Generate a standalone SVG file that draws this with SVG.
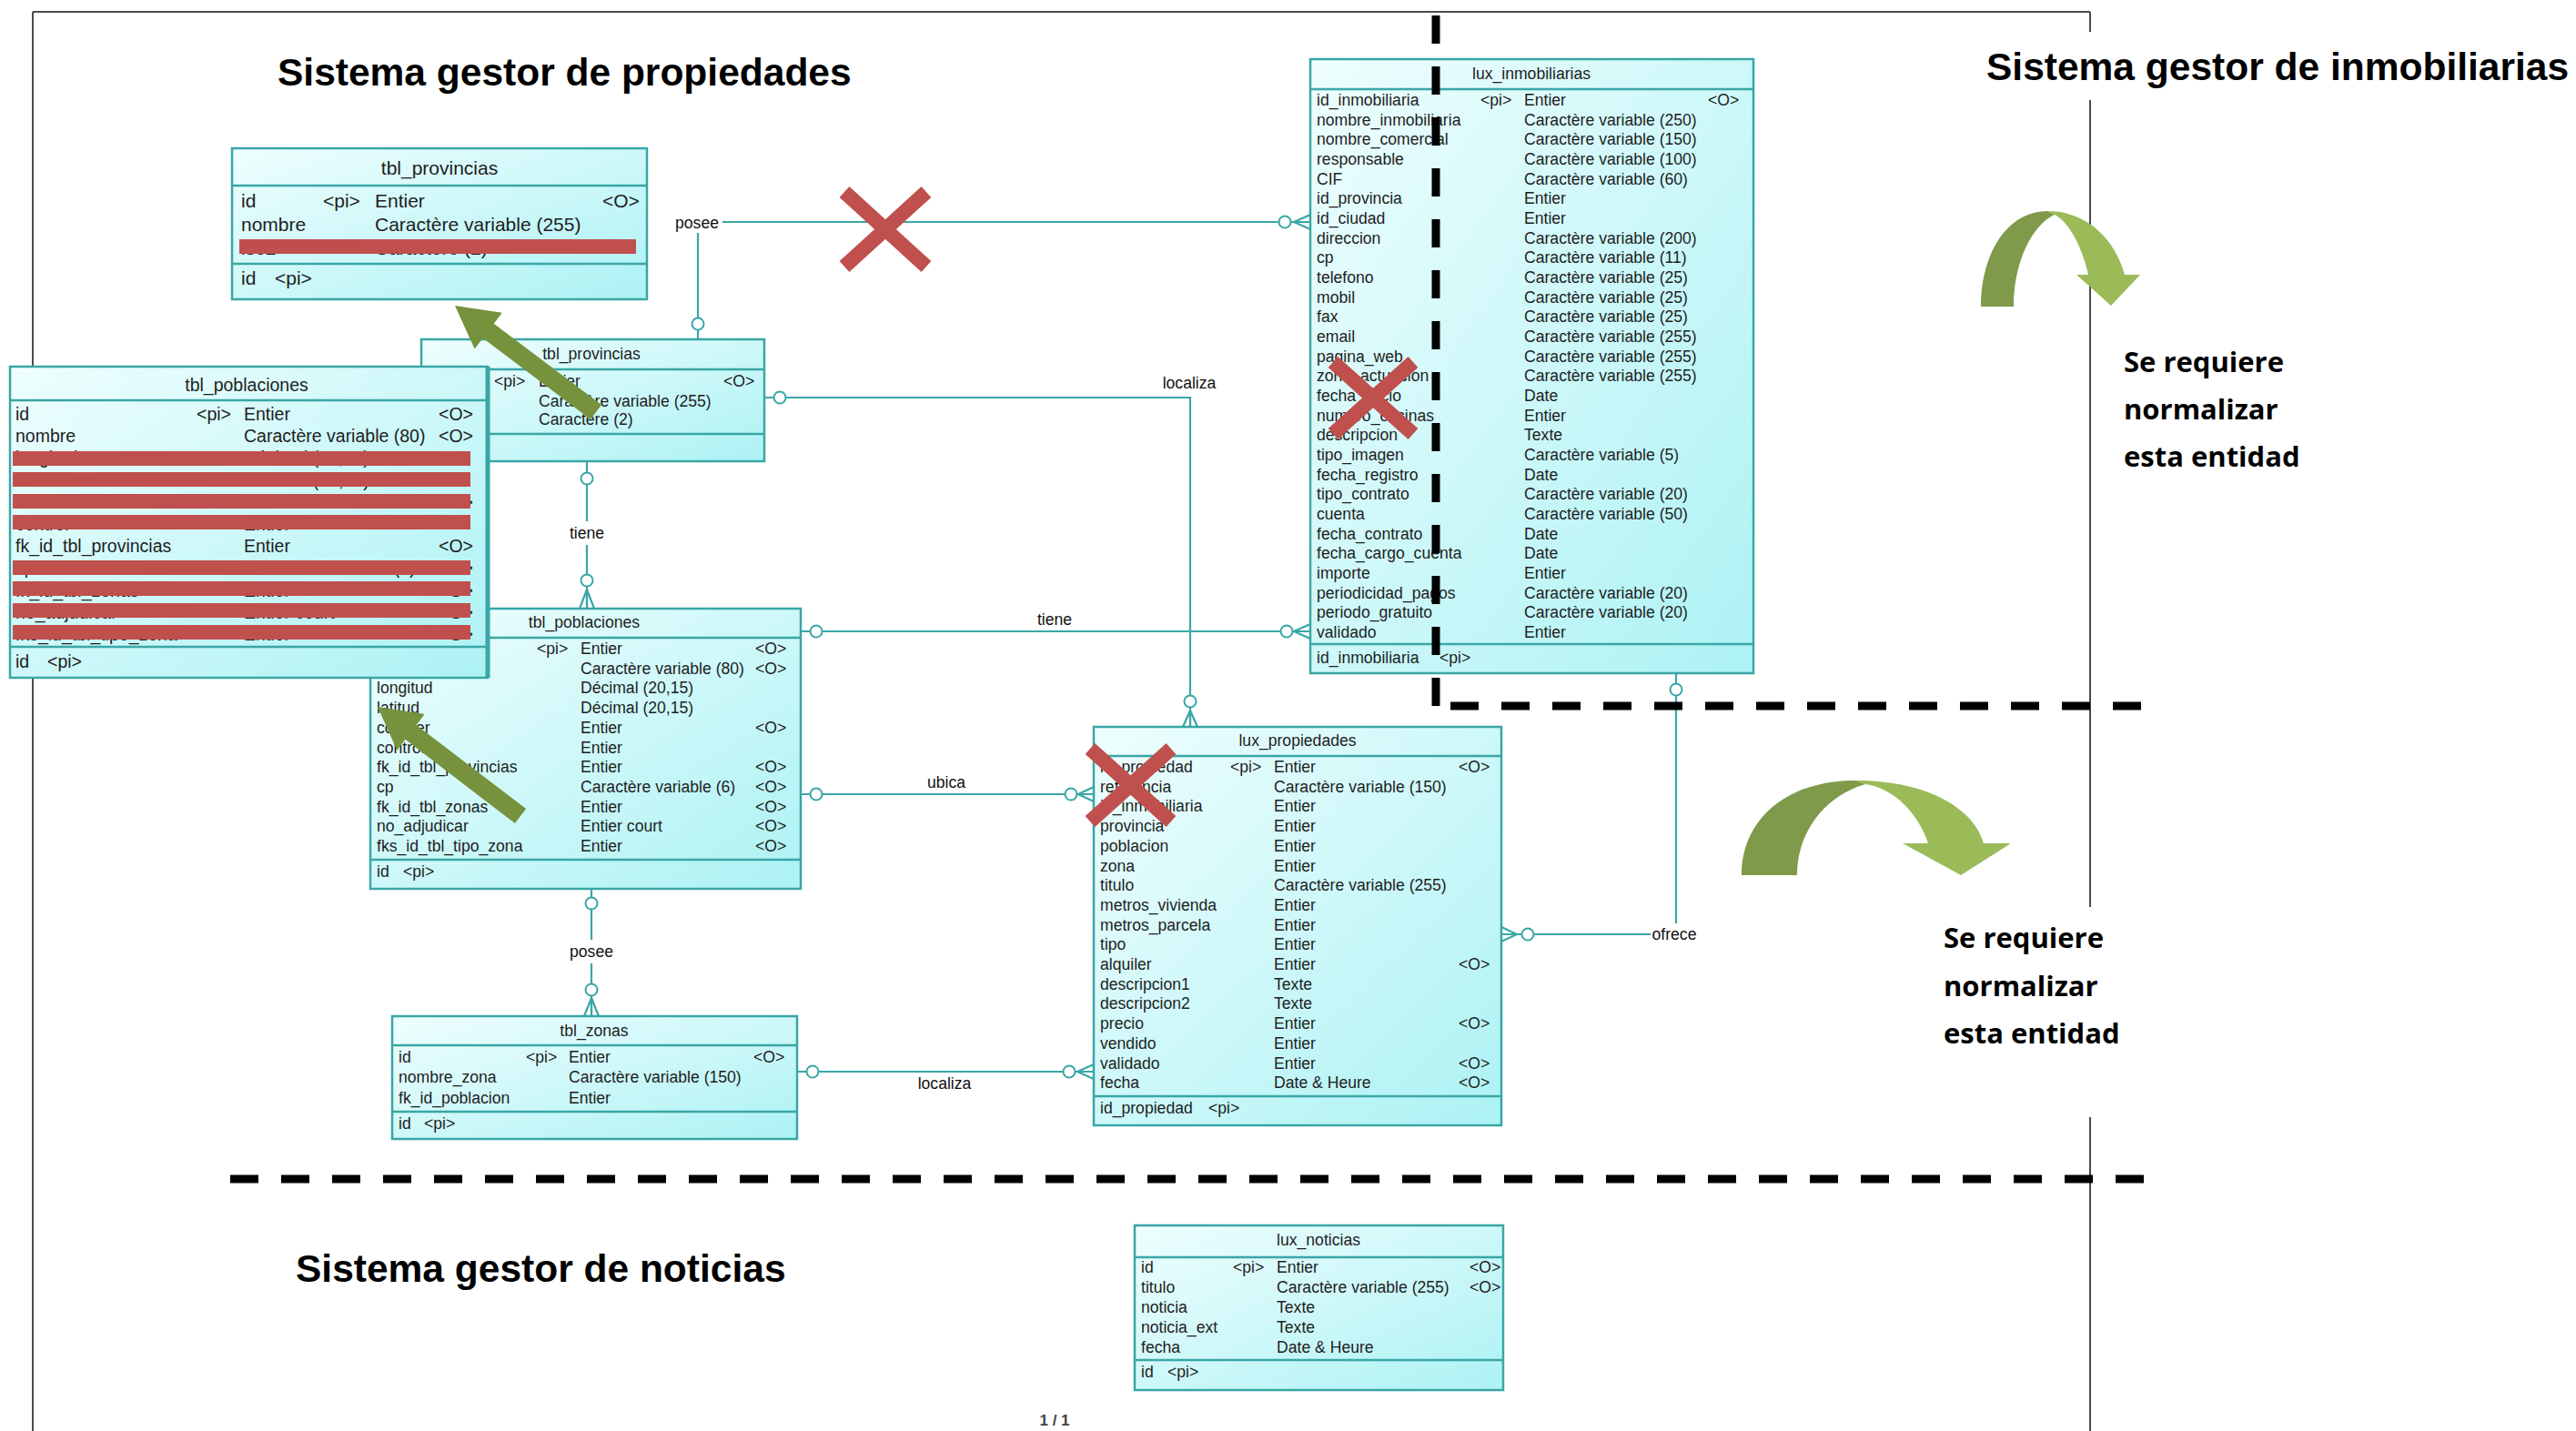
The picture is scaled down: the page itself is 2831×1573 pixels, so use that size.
<svg xmlns="http://www.w3.org/2000/svg" width="2831" height="1573" viewBox="0 0 2831 1573">
<defs>
<linearGradient id="cy" x1="0" y1="0" x2="1" y2="1">
<stop offset="0" stop-color="#effefe"/>
<stop offset="1" stop-color="#adf2f4"/>
</linearGradient>
<style>
.tb{fill:url(#cy);stroke:#3aa6a6;stroke-width:2.5}
.dv{stroke:#3aa6a6;stroke-width:2.5;fill:none}
.t{font-family:"Liberation Sans",Arial,sans-serif;font-size:17.6px;fill:#1e1e1e}
.tm{font-family:"Liberation Sans",Arial,sans-serif;font-size:17.6px;fill:#1e1e1e;text-anchor:middle}
.tL{font-family:"Liberation Sans",Arial,sans-serif;font-size:21px;fill:#1e1e1e}
.tLm{font-family:"Liberation Sans",Arial,sans-serif;font-size:21px;fill:#1e1e1e;text-anchor:middle}
.tO{font-family:"Liberation Sans",Arial,sans-serif;font-size:19.5px;fill:#1e1e1e}
.tOm{font-family:"Liberation Sans",Arial,sans-serif;font-size:19.5px;fill:#1e1e1e;text-anchor:middle}
.c{fill:none;stroke:#3aa6a6;stroke-width:2.2}
.ci{fill:#ffffff;stroke:#3aa6a6;stroke-width:2}
.lb{font-family:"Liberation Sans",Arial,sans-serif;font-size:17.6px;fill:#111;text-anchor:middle}
.sec{font-family:"Liberation Sans",Arial,sans-serif;font-size:42.5px;font-weight:bold;fill:#000}
.note{font-family:"Open Sans","Noto Sans",sans-serif;font-size:31px;font-weight:bold;fill:#000}
.dash{stroke:#000;stroke-width:9;stroke-dasharray:31 25;fill:none}
.rb{fill:#c0504d}
.x{stroke:#c0504d;stroke-width:16;stroke-linecap:butt}
.ga{fill:#76923c}
.frame{stroke:#4a4a4a;stroke-width:2;fill:none}
</style>
</defs>
<rect x="0" y="0" width="2831" height="1573" fill="#ffffff"/>

<g id="page-frame">
<path class="frame" d="M36,13 H2297 M36,13 V1573 M2297,13 V1573"/>
</g>

<g id="connectors">
<path class="c" d="M767,373 V244 H1440"/>
<circle class="ci" cx="767" cy="356" r="6.5"/>
<circle class="ci" cx="1412" cy="244" r="6.5"/>
<path class="c" d="M1422,244 L1440,236 M1422,244 L1440,244 M1422,244 L1440,252"/>

<path class="c" d="M840,437 H1308 V799"/>
<circle class="ci" cx="857" cy="437" r="6.5"/>
<circle class="ci" cx="1308" cy="771" r="6.5"/>
<path class="c" d="M1308,781 L1300,799 M1308,781 L1308,799 M1308,781 L1316,799"/>

<path class="c" d="M645,507 V669"/>
<circle class="ci" cx="645" cy="526" r="6.5"/>
<circle class="ci" cx="645" cy="638" r="6.5"/>
<path class="c" d="M645,648 L637,669 M645,648 L645,669 M645,648 L653,669"/>

<path class="c" d="M880,694 H1440"/>
<circle class="ci" cx="897" cy="694" r="6.5"/>
<circle class="ci" cx="1414" cy="694" r="6.5"/>
<path class="c" d="M1422,694 L1440,686 M1422,694 L1440,694 M1422,694 L1440,702"/>

<path class="c" d="M880,873 H1202"/>
<circle class="ci" cx="897" cy="873" r="6.5"/>
<circle class="ci" cx="1177" cy="873" r="6.5"/>
<path class="c" d="M1185,873 L1202,865 M1185,873 L1202,873 M1185,873 L1202,881"/>

<path class="c" d="M876,1178 H1202"/>
<circle class="ci" cx="893" cy="1178" r="6.5"/>
<circle class="ci" cx="1175" cy="1178" r="6.5"/>
<path class="c" d="M1184,1178 L1202,1170 M1184,1178 L1202,1178 M1184,1178 L1202,1186"/>

<path class="c" d="M650,977 V1117"/>
<circle class="ci" cx="650" cy="993" r="6.5"/>
<circle class="ci" cx="650" cy="1088" r="6.5"/>
<path class="c" d="M650,1097 L642,1117 M650,1097 L650,1117 M650,1097 L658,1117"/>

<path class="c" d="M1842,740 V1027 H1650"/>
<circle class="ci" cx="1842" cy="758" r="6.5"/>
<circle class="ci" cx="1679" cy="1027" r="6.5"/>
<path class="c" d="M1667,1027 L1650,1019 M1667,1027 L1650,1027 M1667,1027 L1650,1035"/>

<rect x="738" y="232" width="56" height="24" fill="#fff"/>
<text class="lb" x="766" y="251">posee</text>
<text class="lb" x="1307" y="427">localiza</text>
<rect x="622" y="573" width="46" height="26" fill="#fff"/>
<text class="lb" x="645" y="592">tiene</text>
<text class="lb" x="1159" y="687">tiene</text>
<text class="lb" x="1040" y="866">ubica</text>
<text class="lb" x="1038" y="1197">localiza</text>
<rect x="625" y="1033" width="50" height="26" fill="#fff"/>
<text class="lb" x="650" y="1052">posee</text>
<rect x="1814" y="1015" width="54" height="24" fill="#fff"/>
<text class="lb" x="1840" y="1033">ofrece</text>
</g>

<g id="lux_inmobiliarias">
<rect class="tb" x="1440" y="65" width="487" height="675"/>
<path class="dv" d="M1440,98 H1927 M1440,708 H1927"/>
<text class="tm" x="1683" y="87">lux_inmobiliarias</text>
<text class="t" x="1447" y="116">id_inmobiliaria</text><text class="t" x="1627" y="116">&lt;pi&gt;</text><text class="t" x="1675" y="116">Entier</text><text class="t" x="1877" y="116">&lt;O&gt;</text>
<text class="t" x="1447" y="137.7">nombre_inmobiliaria</text><text class="t" x="1675" y="137.7">Caractère variable (250)</text>
<text class="t" x="1447" y="159.3">nombre_comercial</text><text class="t" x="1675" y="159.3">Caractère variable (150)</text>
<text class="t" x="1447" y="181">responsable</text><text class="t" x="1675" y="181">Caractère variable (100)</text>
<text class="t" x="1447" y="202.7">CIF</text><text class="t" x="1675" y="202.7">Caractère variable (60)</text>
<text class="t" x="1447" y="224.4">id_provincia</text><text class="t" x="1675" y="224.4">Entier</text>
<text class="t" x="1447" y="246">id_ciudad</text><text class="t" x="1675" y="246">Entier</text>
<text class="t" x="1447" y="267.7">direccion</text><text class="t" x="1675" y="267.7">Caractère variable (200)</text>
<text class="t" x="1447" y="289.4">cp</text><text class="t" x="1675" y="289.4">Caractère variable (11)</text>
<text class="t" x="1447" y="311">telefono</text><text class="t" x="1675" y="311">Caractère variable (25)</text>
<text class="t" x="1447" y="332.7">mobil</text><text class="t" x="1675" y="332.7">Caractère variable (25)</text>
<text class="t" x="1447" y="354.4">fax</text><text class="t" x="1675" y="354.4">Caractère variable (25)</text>
<text class="t" x="1447" y="376">email</text><text class="t" x="1675" y="376">Caractère variable (255)</text>
<text class="t" x="1447" y="397.7">pagina_web</text><text class="t" x="1675" y="397.7">Caractère variable (255)</text>
<text class="t" x="1447" y="419.4">zona_actuacion</text><text class="t" x="1675" y="419.4">Caractère variable (255)</text>
<text class="t" x="1447" y="441">fecha_inicio</text><text class="t" x="1675" y="441">Date</text>
<text class="t" x="1447" y="462.7">numero_oficinas</text><text class="t" x="1675" y="462.7">Entier</text>
<text class="t" x="1447" y="484.4">descripcion</text><text class="t" x="1675" y="484.4">Texte</text>
<text class="t" x="1447" y="506">tipo_imagen</text><text class="t" x="1675" y="506">Caractère variable (5)</text>
<text class="t" x="1447" y="527.7">fecha_registro</text><text class="t" x="1675" y="527.7">Date</text>
<text class="t" x="1447" y="549.4">tipo_contrato</text><text class="t" x="1675" y="549.4">Caractère variable (20)</text>
<text class="t" x="1447" y="571">cuenta</text><text class="t" x="1675" y="571">Caractère variable (50)</text>
<text class="t" x="1447" y="592.7">fecha_contrato</text><text class="t" x="1675" y="592.7">Date</text>
<text class="t" x="1447" y="614.4">fecha_cargo_cuenta</text><text class="t" x="1675" y="614.4">Date</text>
<text class="t" x="1447" y="636">importe</text><text class="t" x="1675" y="636">Entier</text>
<text class="t" x="1447" y="657.7">periodicidad_pagos</text><text class="t" x="1675" y="657.7">Caractère variable (20)</text>
<text class="t" x="1447" y="679.4">periodo_gratuito</text><text class="t" x="1675" y="679.4">Caractère variable (20)</text>
<text class="t" x="1447" y="701">validado</text><text class="t" x="1675" y="701">Entier</text>
<text class="t" x="1447" y="729">id_inmobiliaria</text><text class="t" x="1582" y="729">&lt;pi&gt;</text>
</g>

<g id="lux_propiedades">
<rect class="tb" x="1202" y="799" width="448" height="438"/>
<path class="dv" d="M1202,831 H1650 M1202,1205 H1650"/>
<text class="tm" x="1426" y="820">lux_propiedades</text>
<text class="t" x="1209" y="849">id_propiedad</text><text class="t" x="1352" y="849">&lt;pi&gt;</text><text class="t" x="1400" y="849">Entier</text><text class="t" x="1603" y="849">&lt;O&gt;</text>
<text class="t" x="1209" y="870.7">referencia</text><text class="t" x="1400" y="870.7">Caractère variable (150)</text>
<text class="t" x="1209" y="892.4">id_inmobiliaria</text><text class="t" x="1400" y="892.4">Entier</text>
<text class="t" x="1209" y="914.1">provincia</text><text class="t" x="1400" y="914.1">Entier</text>
<text class="t" x="1209" y="935.8">poblacion</text><text class="t" x="1400" y="935.8">Entier</text>
<text class="t" x="1209" y="957.5">zona</text><text class="t" x="1400" y="957.5">Entier</text>
<text class="t" x="1209" y="979.2">titulo</text><text class="t" x="1400" y="979.2">Caractère variable (255)</text>
<text class="t" x="1209" y="1000.9">metros_vivienda</text><text class="t" x="1400" y="1000.9">Entier</text>
<text class="t" x="1209" y="1022.6">metros_parcela</text><text class="t" x="1400" y="1022.6">Entier</text>
<text class="t" x="1209" y="1044.3">tipo</text><text class="t" x="1400" y="1044.3">Entier</text>
<text class="t" x="1209" y="1066">alquiler</text><text class="t" x="1400" y="1066">Entier</text><text class="t" x="1603" y="1066">&lt;O&gt;</text>
<text class="t" x="1209" y="1087.7">descripcion1</text><text class="t" x="1400" y="1087.7">Texte</text>
<text class="t" x="1209" y="1109.4">descripcion2</text><text class="t" x="1400" y="1109.4">Texte</text>
<text class="t" x="1209" y="1131.1">precio</text><text class="t" x="1400" y="1131.1">Entier</text><text class="t" x="1603" y="1131.1">&lt;O&gt;</text>
<text class="t" x="1209" y="1152.8">vendido</text><text class="t" x="1400" y="1152.8">Entier</text>
<text class="t" x="1209" y="1174.5">validado</text><text class="t" x="1400" y="1174.5">Entier</text><text class="t" x="1603" y="1174.5">&lt;O&gt;</text>
<text class="t" x="1209" y="1196.2">fecha</text><text class="t" x="1400" y="1196.2">Date &amp; Heure</text><text class="t" x="1603" y="1196.2">&lt;O&gt;</text>
<text class="t" x="1209" y="1224">id_propiedad</text><text class="t" x="1328" y="1224">&lt;pi&gt;</text>
</g>

<g id="lux_noticias">
<rect class="tb" x="1247" y="1347" width="405" height="181"/>
<path class="dv" d="M1247,1382 H1652 M1247,1495 H1652"/>
<text class="tm" x="1449" y="1369">lux_noticias</text>
<text class="t" x="1254" y="1399">id</text><text class="t" x="1355" y="1399">&lt;pi&gt;</text><text class="t" x="1403" y="1399">Entier</text><text class="t" x="1615" y="1399">&lt;O&gt;</text>
<text class="t" x="1254" y="1421">titulo</text><text class="t" x="1403" y="1421">Caractère variable (255)</text><text class="t" x="1615" y="1421">&lt;O&gt;</text>
<text class="t" x="1254" y="1443">noticia</text><text class="t" x="1403" y="1443">Texte</text>
<text class="t" x="1254" y="1465">noticia_ext</text><text class="t" x="1403" y="1465">Texte</text>
<text class="t" x="1254" y="1487">fecha</text><text class="t" x="1403" y="1487">Date &amp; Heure</text>
<text class="t" x="1254" y="1514">id</text><text class="t" x="1283" y="1514">&lt;pi&gt;</text>
</g>

<g id="tbl_zonas">
<rect class="tb" x="431" y="1117" width="445" height="135"/>
<path class="dv" d="M431,1149 H876 M431,1222 H876"/>
<text class="tm" x="653" y="1139">tbl_zonas</text>
<text class="t" x="438" y="1168">id</text><text class="t" x="578" y="1168">&lt;pi&gt;</text><text class="t" x="625" y="1168">Entier</text><text class="t" x="828" y="1168">&lt;O&gt;</text>
<text class="t" x="438" y="1190">nombre_zona</text><text class="t" x="625" y="1190">Caractère variable (150)</text>
<text class="t" x="438" y="1213">fk_id_poblacion</text><text class="t" x="625" y="1213">Entier</text>
<text class="t" x="438" y="1241">id</text><text class="t" x="466" y="1241">&lt;pi&gt;</text>
</g>

<g id="tbl_poblaciones">
<rect class="tb" x="407" y="669" width="473" height="308"/>
<path class="dv" d="M407,701 H880 M407,945 H880"/>
<text class="tm" x="642" y="690">tbl_poblaciones</text>
<text class="t" x="590" y="719">&lt;pi&gt;</text><text class="t" x="638" y="719">Entier</text><text class="t" x="830" y="719">&lt;O&gt;</text>
<text class="t" x="638" y="740.7">Caractère variable (80)</text><text class="t" x="830" y="740.7">&lt;O&gt;</text>
<text class="t" x="414" y="762.4">longitud</text><text class="t" x="638" y="762.4">Décimal (20,15)</text>
<text class="t" x="414" y="784.1">latitud</text><text class="t" x="638" y="784.1">Décimal (20,15)</text>
<text class="t" x="414" y="805.8">counter</text><text class="t" x="638" y="805.8">Entier</text><text class="t" x="830" y="805.8">&lt;O&gt;</text>
<text class="t" x="414" y="827.5">control</text><text class="t" x="638" y="827.5">Entier</text>
<text class="t" x="414" y="849.2">fk_id_tbl_provincias</text><text class="t" x="638" y="849.2">Entier</text><text class="t" x="830" y="849.2">&lt;O&gt;</text>
<text class="t" x="414" y="870.9">cp</text><text class="t" x="638" y="870.9">Caractère variable (6)</text><text class="t" x="830" y="870.9">&lt;O&gt;</text>
<text class="t" x="414" y="892.6">fk_id_tbl_zonas</text><text class="t" x="638" y="892.6">Entier</text><text class="t" x="830" y="892.6">&lt;O&gt;</text>
<text class="t" x="414" y="914.3">no_adjudicar</text><text class="t" x="638" y="914.3">Entier court</text><text class="t" x="830" y="914.3">&lt;O&gt;</text>
<text class="t" x="414" y="936">fks_id_tbl_tipo_zona</text><text class="t" x="638" y="936">Entier</text><text class="t" x="830" y="936">&lt;O&gt;</text>
<text class="t" x="414" y="964">id</text><text class="t" x="443" y="964">&lt;pi&gt;</text>
</g>

<g id="tbl_provincias">
<rect class="tb" x="463" y="373" width="377" height="134"/>
<path class="dv" d="M463,406 H840 M463,477 H840"/>
<text class="tm" x="650" y="395">tbl_provincias</text>
<text class="t" x="543" y="425">&lt;pi&gt;</text><text class="t" x="592" y="425">Entier</text><text class="t" x="795" y="425">&lt;O&gt;</text>
<text class="t" x="592" y="447">Caractère variable (255)</text>
<text class="t" x="592" y="467">Caractère (2)</text>
</g>

<g id="tbl_provincias_extract">
<rect class="tb" x="255" y="163" width="456" height="166"/>
<path class="dv" d="M255,204 H711 M255,290 H711"/>
<text class="tLm" x="483" y="192">tbl_provincias</text>
<text class="tL" x="265" y="228">id</text><text class="tL" x="355" y="228">&lt;pi&gt;</text><text class="tL" x="412" y="228">Entier</text><text class="tL" x="662" y="228">&lt;O&gt;</text>
<text class="tL" x="265" y="254">nombre</text><text class="tL" x="412" y="254">Caractère variable (255)</text>
<text class="tL" x="265" y="280">iso2</text><text class="tL" x="412" y="280">Caractère (2)</text>
<text class="tL" x="265" y="313">id</text><text class="tL" x="302" y="313">&lt;pi&gt;</text>
<rect class="rb" x="263" y="263" width="436" height="16"/>
</g>

<g id="tbl_poblaciones_extract">
<rect class="tb" x="11" y="403" width="525" height="342"/>
<path class="dv" d="M11,440 H536 M11,711 H536"/>
<path d="M536,403 V745" stroke="#3aa6a6" stroke-width="5"/>
<text class="tOm" x="271" y="430">tbl_poblaciones</text>
<text class="tO" x="17" y="462">id</text><text class="tO" x="216" y="462">&lt;pi&gt;</text><text class="tO" x="268" y="462">Entier</text><text class="tO" x="482" y="462">&lt;O&gt;</text>
<text class="tO" x="17" y="486.2">nombre</text><text class="tO" x="268" y="486.2">Caractère variable (80)</text><text class="tO" x="482" y="486.2">&lt;O&gt;</text>
<text class="tO" x="17" y="510.4">longitud</text><text class="tO" x="268" y="510.4">Décimal (20,15)</text>
<text class="tO" x="17" y="534.6">latitud</text><text class="tO" x="268" y="534.6">Décimal (20,15)</text>
<text class="tO" x="17" y="558.8">counter</text><text class="tO" x="268" y="558.8">Entier</text><text class="tO" x="482" y="558.8">&lt;O&gt;</text>
<text class="tO" x="17" y="583">control</text><text class="tO" x="268" y="583">Entier</text>
<text class="tO" x="17" y="607.2">fk_id_tbl_provincias</text><text class="tO" x="268" y="607.2">Entier</text><text class="tO" x="482" y="607.2">&lt;O&gt;</text>
<text class="tO" x="17" y="631.4">cp</text><text class="tO" x="268" y="631.4">Caractère variable (6)</text><text class="tO" x="482" y="631.4">&lt;O&gt;</text>
<text class="tO" x="17" y="655.6">fk_id_tbl_zonas</text><text class="tO" x="268" y="655.6">Entier</text><text class="tO" x="482" y="655.6">&lt;O&gt;</text>
<text class="tO" x="17" y="679.8">no_adjudicar</text><text class="tO" x="268" y="679.8">Entier court</text><text class="tO" x="482" y="679.8">&lt;O&gt;</text>
<text class="tO" x="17" y="704">fks_id_tbl_tipo_zona</text><text class="tO" x="268" y="704">Entier</text><text class="tO" x="482" y="704">&lt;O&gt;</text>
<text class="tO" x="17" y="734">id</text><text class="tO" x="52" y="734">&lt;pi&gt;</text>
<rect class="rb" x="14" y="496" width="503" height="16"/>
<rect class="rb" x="14" y="519" width="503" height="16"/>
<rect class="rb" x="14" y="543" width="503" height="16"/>
<rect class="rb" x="14" y="566" width="503" height="16"/>
<rect class="rb" x="14" y="616" width="503" height="16"/>
<rect class="rb" x="14" y="639" width="503" height="16"/>
<rect class="rb" x="14" y="663" width="503" height="16"/>
<rect class="rb" x="14" y="687" width="503" height="16"/>
</g>

<g id="boundaries">
<path class="dash" d="M1578,17 V776"/>
<path class="dash" d="M1594,776 H2360"/>
<path class="dash" d="M253,1296 H2360"/>
</g>

<g id="crosses">
<path class="x" d="M928,211 L1018,293 M1018,211 L928,293"/>
<path class="x" d="M1465,398 L1553,477 M1553,398 L1465,477"/>
<path class="x" d="M1198,823 L1287,903 M1287,823 L1198,903"/>
</g>

<g id="green-arrows">
<polygon class="ga" points="661,445 542.7,355.7 551.8,343.8 500,336 521.6,383.6 530.7,371.7 649,461"/>
<polygon class="ga" points="578.1,889.1 457.6,797 466.7,785 415,777 436.3,824.8 445.4,812.8 565.9,904.9"/>
</g>

<g id="curved-arrow-top">
<path fill="#7e9a4a" d="M2177,337 C2177,280 2205,232 2250,232 L2258,236 C2232,248 2213,290 2213,337 Z"/>
<path fill="#9bbb59" d="M2250,232 C2295,232 2325,265 2335,302 L2352,302 L2320,336 L2282,302 L2295,302 C2288,272 2275,245 2258,236 Z"/>
</g>
<g id="curved-arrow-bottom">
<path fill="#7e9a4a" d="M1914,962 C1914,905 1958,858 2040,858 L2050,862 C2005,875 1975,915 1975,962 Z"/>
<path fill="#9bbb59" d="M2040,858 C2120,858 2170,890 2180,927 L2210,927 L2155,962 L2091,927 L2119,927 C2108,893 2080,866 2050,862 Z"/>
</g>

<g id="titles">
<text class="sec" x="305" y="94">Sistema gestor de propiedades</text>
<rect x="2175" y="35" width="656" height="75" fill="#fff"/>
<text class="sec" x="2183" y="88">Sistema gestor de inmobiliarias</text>
<text class="sec" x="325" y="1409">Sistema gestor de noticias</text>
</g>

<g id="notes">
<text class="note" x="2334" y="409">Se requiere</text>
<text class="note" x="2334" y="461">normalizar</text>
<text class="note" x="2334" y="513">esta entidad</text>
<rect x="2120" y="997" width="220" height="231" fill="#fff"/>
<text class="note" x="2136" y="1042">Se requiere</text>
<text class="note" x="2136" y="1095">normalizar</text>
<text class="note" x="2136" y="1147">esta entidad</text>
<text x="1159" y="1567" text-anchor="middle" font-family="Liberation Sans, Arial, sans-serif" font-size="17" font-weight="bold" fill="#444">1 / 1</text>
</g>
</svg>
